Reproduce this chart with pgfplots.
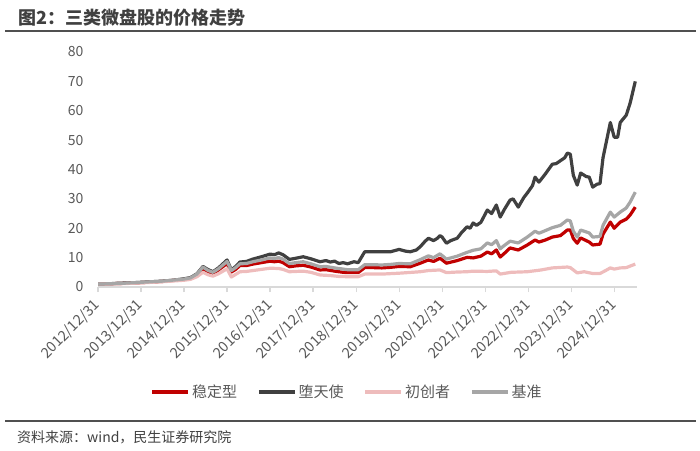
\documentclass[border=0pt]{standalone}
\usepackage{pgfplots}
\pgfplotsset{compat=1.18}
\usepackage{fontspec}
\setmainfont{Noto Sans CJK SC}
\definecolor{cRed}{RGB}{192,0,0}
\definecolor{cDark}{RGB}{64,64,64}
\definecolor{cPink}{RGB}{238,188,188}
\definecolor{cGray}{RGB}{166,166,166}
\definecolor{txtgray}{RGB}{89,89,89}
\definecolor{axgray}{RGB}{217,217,217}
\definecolor{rulegray}{RGB}{80,80,80}
\begin{document}
\begin{tikzpicture}[x=1pt,y=1pt]
\path[use as bounding box] (0,0) rectangle (700,-450);
\node[anchor=west, font=\fontsize{18}{20}\selectfont\bfseries, text=cDark, inner sep=0] at (18,-18) {图2：三类微盘股的价格走势};
\draw[rulegray, line width=1.5pt] (5,-31) -- (696,-31);
\draw[rulegray, line width=1.2pt] (5,-421) -- (696,-421);
\node[anchor=west, font=\fontsize{14}{16}\selectfont, text=cDark, inner sep=0] at (17,-437) {资料来源：wind，民生证券研究院};
\begin{axis}[
  at={(98pt,-287pt)}, anchor=south west,
  scale only axis, width=539pt, height=235pt,
  xmin=0, xmax=12.53, ymin=0, ymax=80,
  axis lines*=left,
  x axis line style={draw=axgray, line width=1.2pt},
  y axis line style={draw=none},
  xtick={0,1,...,12},
  xticklabels={2012/12/31,2013/12/31,2014/12/31,2015/12/31,2016/12/31,2017/12/31,2018/12/31,2019/12/31,2020/12/31,2021/12/31,2022/12/31,2023/12/31,2024/12/31},
  ytick={0,10,...,80},
  tick align=outside,
  major tick length=5pt,
  xtick style={draw=axgray, line width=1.2pt},
  ytick style={draw=none},
  x tick label style={yshift=-8pt, xshift=2pt, rotate=45, anchor=east, font=\fontsize{14.5}{16}\selectfont, text=txtgray},
  y tick label style={font=\fontsize{14}{16}\selectfont, text=txtgray, xshift=-6pt},
  /pgf/number format/assume math mode=true,
  legend columns=4,
  legend style={draw=none, fill=none, at={(0.462,-0.447)}, anchor=center, font=\fontsize{15}{17}\selectfont, text=txtgray,
    /tikz/every even column/.append style={column sep=18pt}},
  legend image code/.code={\draw[#1, line width=3.5pt] (0pt,0pt) -- (36pt,0pt);},
  every axis plot/.append style={line width=3.2pt, line join=round, no markers},
]
\addplot[cRed] coordinates {
(0,1.0)(0.5,1.2)(1.0,1.5)(1.5,1.9)(2.0,2.6)(2.15,3.0)(2.3,4.2)(2.44,6.2)(2.55,5.2)(2.67,4.6)(2.8,5.8)(3.0,8.0)(3.1,5.1)(3.2,6.0)(3.3,7.3)(3.45,7.3)(3.6,7.8)(3.8,8.3)(4.0,8.8)(4.1,8.6)(4.2,8.8)(4.3,8.3)(4.45,6.9)(4.6,7.2)(4.77,7.4)(4.95,6.8)(5.16,5.8)(5.3,5.9)(5.5,5.4)(5.7,5.0)(5.8,4.9)(6.05,4.9)(6.2,6.6)(6.4,6.6)(6.6,6.5)(6.8,6.7)(7.0,7.0)(7.26,6.9)(7.49,8.1)(7.68,9.2)(7.8,8.7)(7.95,9.8)(8.1,8.1)(8.35,9.0)(8.58,10.1)(8.72,9.9)(8.9,10.5)(9.05,11.9)(9.15,11.3)(9.26,12.6)(9.35,10.2)(9.45,11.5)(9.58,13.3)(9.77,12.6)(9.98,14.3)(10.16,16.0)(10.25,15.3)(10.4,16.0)(10.56,17.0)(10.75,17.5)(10.91,19.4)(10.98,19.4)(11.05,16.5)(11.14,14.9)(11.22,16.7)(11.42,15.3)(11.5,14.3)(11.67,14.6)(11.74,18.0)(11.91,22.1)(12.0,20.0)(12.14,22.1)(12.28,23.1)(12.37,24.5)(12.49,27.2)
};
\addlegendentry{稳定型}
\addplot[cDark] coordinates {
(0,1.0)(0.25,1.1)(0.5,1.3)(0.75,1.4)(1.0,1.6)(1.25,1.8)(1.5,2.0)(1.75,2.3)(2.0,2.8)(2.15,3.2)(2.3,4.5)(2.44,7.0)(2.55,6.0)(2.67,5.2)(2.8,6.5)(3.0,9.2)(3.1,5.8)(3.2,7.0)(3.3,8.5)(3.45,8.7)(3.6,9.5)(3.8,10.3)(4.0,11.2)(4.1,11.0)(4.2,11.6)(4.3,11.0)(4.45,9.4)(4.6,9.8)(4.77,10.3)(4.95,9.6)(5.16,8.6)(5.3,9.0)(5.4,8.5)(5.5,8.8)(5.6,8.0)(5.7,8.3)(5.8,7.9)(5.95,8.6)(6.05,8.3)(6.2,12.0)(6.4,12.0)(6.6,12.0)(6.8,12.0)(7.0,12.8)(7.15,12.2)(7.26,12.0)(7.4,12.6)(7.49,13.7)(7.6,15.5)(7.68,16.6)(7.8,15.8)(7.88,16.5)(7.95,17.5)(8.0,17.0)(8.1,14.9)(8.2,15.8)(8.35,16.6)(8.45,18.5)(8.58,20.5)(8.65,20.0)(8.72,21.8)(8.8,21.0)(8.9,22.0)(9.05,26.2)(9.15,25.0)(9.26,27.9)(9.35,23.8)(9.45,26.5)(9.58,29.6)(9.65,30.0)(9.77,27.2)(9.9,30.5)(9.98,32.0)(10.1,34.5)(10.16,37.4)(10.25,35.7)(10.4,38.5)(10.56,41.8)(10.65,42.0)(10.75,43.0)(10.85,44.0)(10.91,45.6)(10.98,45.2)(11.05,38.0)(11.14,34.7)(11.22,38.8)(11.35,37.6)(11.42,37.4)(11.5,34.0)(11.6,35.0)(11.67,35.2)(11.74,44.0)(11.91,56.0)(12.0,51.0)(12.08,51.0)(12.14,56.0)(12.28,58.5)(12.37,62.6)(12.49,70.0)
};
\addlegendentry{堕天使}
\addplot[cPink] coordinates {
(0,1.0)(0.5,1.1)(1.0,1.4)(1.5,1.8)(2.0,2.3)(2.15,2.6)(2.3,3.5)(2.44,5.0)(2.55,4.2)(2.67,3.7)(2.8,4.5)(3.0,6.2)(3.1,3.4)(3.2,4.3)(3.3,5.2)(3.45,5.3)(3.6,5.6)(3.8,6.0)(4.0,6.4)(4.2,6.3)(4.3,6.0)(4.45,5.2)(4.6,5.3)(4.77,5.4)(4.95,5.0)(5.16,4.1)(5.4,3.9)(5.6,3.6)(5.8,3.5)(6.05,3.5)(6.2,4.4)(6.6,4.4)(7.0,4.7)(7.49,5.2)(7.68,5.6)(7.95,5.8)(8.1,4.9)(8.35,5.1)(8.58,5.2)(8.72,5.4)(9.05,5.3)(9.26,5.5)(9.35,4.4)(9.6,5.0)(9.98,5.2)(10.3,5.8)(10.56,6.5)(10.91,6.8)(10.98,6.6)(11.14,4.8)(11.3,5.2)(11.5,4.6)(11.67,4.6)(11.8,5.6)(11.91,6.5)(12.0,6.1)(12.14,6.5)(12.28,6.6)(12.49,7.8)
};
\addlegendentry{初创者}
\addplot[cGray] coordinates {
(0,1.0)(0.5,1.2)(1.0,1.6)(1.5,2.0)(2.0,2.7)(2.15,3.1)(2.3,4.4)(2.44,6.8)(2.55,5.7)(2.67,5.0)(2.8,6.2)(3.0,8.7)(3.1,5.6)(3.2,6.6)(3.3,7.9)(3.45,8.0)(3.6,8.6)(3.8,9.2)(4.0,9.9)(4.1,9.7)(4.2,10.0)(4.3,9.5)(4.45,8.0)(4.6,8.3)(4.77,8.6)(4.95,7.9)(5.16,6.9)(5.3,7.0)(5.5,6.5)(5.7,6.1)(5.8,5.9)(6.05,5.9)(6.2,7.6)(6.4,7.6)(6.6,7.5)(6.8,7.7)(7.0,8.0)(7.26,7.9)(7.49,9.3)(7.68,10.6)(7.8,10.0)(7.95,11.3)(8.1,9.5)(8.35,10.5)(8.58,11.8)(8.72,12.5)(8.9,13.0)(9.05,15.0)(9.15,14.4)(9.26,15.8)(9.35,13.0)(9.45,14.2)(9.58,15.6)(9.77,15.0)(9.98,17.0)(10.16,19.0)(10.25,18.3)(10.4,19.2)(10.56,20.2)(10.75,21.0)(10.91,22.8)(10.98,22.5)(11.05,19.0)(11.14,17.0)(11.22,19.4)(11.42,18.4)(11.5,17.0)(11.67,17.2)(11.74,21.0)(11.91,25.5)(12.0,23.8)(12.14,25.5)(12.28,26.9)(12.37,28.9)(12.49,32.3)
};
\addlegendentry{基准}
\end{axis}
\end{tikzpicture}
\end{document}
